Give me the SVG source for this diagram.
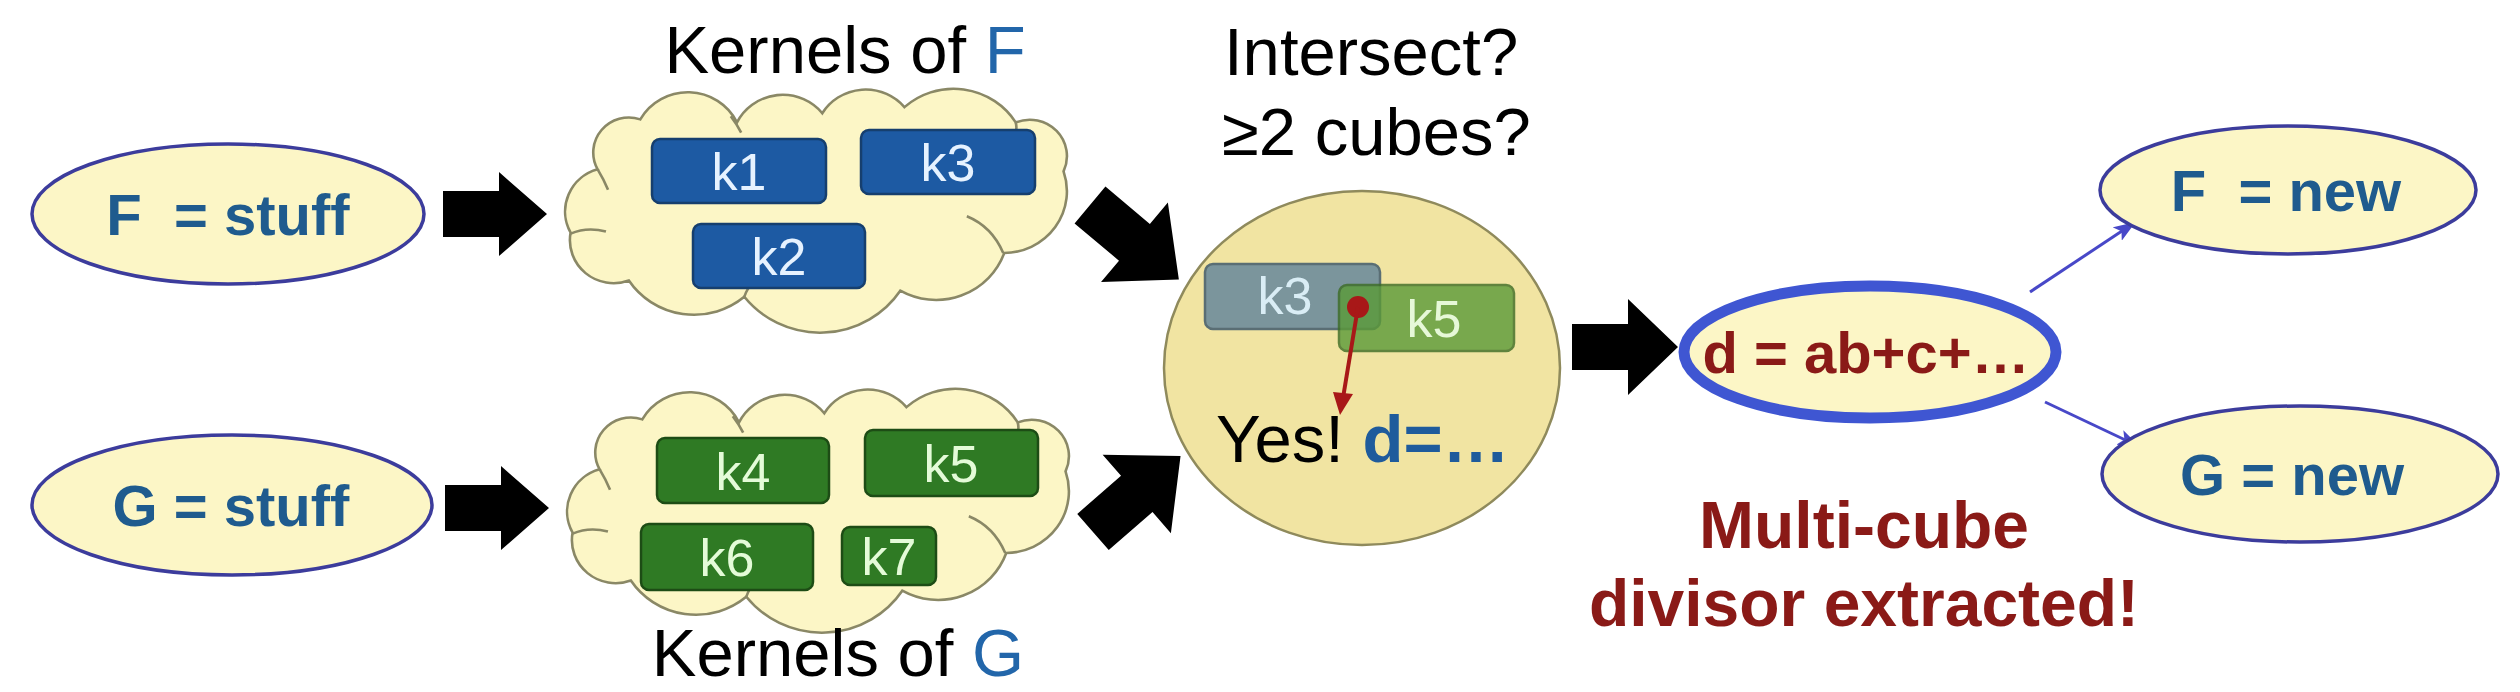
<svg xmlns="http://www.w3.org/2000/svg" xmlns:xlink="http://www.w3.org/1999/xlink" width="2520" height="692" viewBox="0 0 2520 692">
<style>
.lbl{font-family:"Liberation Sans",Arial,sans-serif;fill:#000;font-size:67px}
.blab{font-family:"Liberation Sans",Arial,sans-serif;font-weight:bold;font-size:58px;fill:#1f5b8e;white-space:pre}
.red{font-family:"Liberation Sans",Arial,sans-serif;font-weight:bold;fill:#8a1a17}
.ell{fill:#fcf6c6;stroke:#3c3c9c;stroke-width:3.5}
.cloud{fill:#fcf6c6;stroke:#8a8866;stroke-width:2.5}
.inner{fill:none;stroke:#8a8866;stroke-width:2.5}
.kb{fill:#1d5aa3;stroke:#163f6e;stroke-width:2.5}
.kg{fill:#2f7a24;stroke:#1d4c15;stroke-width:2.5}
.kt{font-family:"Liberation Sans",Arial,sans-serif;font-size:52px;text-anchor:middle}
.big{fill:#000}
.thin{stroke:#4848c8;stroke-width:3;fill:none}
</style>
<defs>
<path id="bigArrow" d="M0,-24 H58 V-52 L116,0 L58,52 V24 H0 Z"/>
<path id="hArrow" d="M0,-23 H56 V-42 L104,0 L56,42 V23 H0 Z"/>
<path id="rArrow" d="M0,-23 H56 V-48 L106,0 L56,48 V23 H0 Z"/>
<path id="cloudShape" d="M606,168 A34.3,34.3 0 0 1 647,119 A52.6,52.6 0 0 1 740,122 A49.2,49.2 0 0 1 822,113 A49,49 0 0 1 901,107 A70.8,70.8 0 0 1 1008,122 A35.75,35.75 0 0 1 1054,170 A60.5,60.5 0 0 1 997,250 A69.7,69.7 0 0 1 897,287 A93,93 0 0 1 747,293 A75.2,75.2 0 0 1 636,277 A42.1,42.1 0 0 1 580,230 A43,43 0 0 1 606,168 Z"/>
<g id="cloudInner">
<path d="M580,231 Q596,224 614,229"/>
<path d="M606,168 Q612,178 616,188"/>
<path d="M734,116 Q740,124 744,132"/>
<path d="M961,214 Q985,224 996,250"/>
<path d="M747,293 Q750,284 757,276"/>
<path d="M1008,122 Q1010,130 1006,138"/>
</g>
<marker id="thinHead" markerWidth="22" markerHeight="16" refX="20" refY="8" orient="auto" markerUnits="userSpaceOnUse">
<path d="M0,0 L22,8 L0,16 L5,8 Z" fill="#4848c8"/>
</marker>
</defs>
<rect width="2520" height="692" fill="#ffffff"/>

<!-- connectors -->
<g id="connectors">
<use xlink:href="#hArrow" class="big" transform="translate(443,214)"/>
<use xlink:href="#hArrow" class="big" transform="translate(445,508)"/>
<use xlink:href="#bigArrow" class="big" transform="translate(1090,205) rotate(40)"/>
<use xlink:href="#bigArrow" class="big" transform="translate(1093,532) rotate(-41)"/>
<use xlink:href="#rArrow" class="big" transform="translate(1572,347)"/>
<line x1="2030" y1="292" x2="2134" y2="223" class="thin" marker-end="url(#thinHead)"/>
<line x1="2045" y1="402" x2="2138" y2="446" class="thin" marker-end="url(#thinHead)"/>
</g>

<!-- Kernels of F label -->
<g id="label-kernels-f">
<text class="lbl" x="845" y="73" text-anchor="middle">Kernels of <tspan fill="#2266aa">F</tspan></text>
</g>

<!-- F = stuff -->
<g id="node-f-stuff">
<ellipse class="ell" cx="228" cy="214" rx="196" ry="70"/>
<text class="blab" x="228" y="235" text-anchor="middle">F  = stuff</text>
</g>

<!-- G = stuff -->
<g id="node-g-stuff">
<ellipse class="ell" cx="232" cy="505" rx="200" ry="70"/>
<text class="blab" x="231" y="526" text-anchor="middle">G = stuff</text>
</g>

<!-- cloud F -->
<g id="cloud-f">
<g transform="translate(815,0) scale(1.04,1.02) translate(-815,-2)">
<use xlink:href="#cloudShape" class="cloud"/>
<use xlink:href="#cloudInner" class="inner"/>
</g>
<rect class="kb" x="652" y="139" width="174" height="64" rx="8"/>
<text class="kt" x="739" y="190" fill="#e6f2ff">k1</text>
<rect class="kb" x="861" y="130" width="174" height="64" rx="8"/>
<text class="kt" x="948" y="181" fill="#e6f2ff">k3</text>
<rect class="kb" x="693" y="224" width="172" height="64" rx="8"/>
<text class="kt" x="779" y="275" fill="#e6f2ff">k2</text>
</g>

<!-- cloud G -->
<g id="cloud-g">
<g transform="translate(817,300) scale(1.04,1.02) translate(-815,-2)">
<use xlink:href="#cloudShape" class="cloud"/>
<use xlink:href="#cloudInner" class="inner"/>
</g>
<rect class="kg" x="657" y="438" width="172" height="65" rx="8"/>
<text class="kt" x="743" y="490" fill="#e4fbd8">k4</text>
<rect class="kg" x="865" y="430" width="173" height="66" rx="8"/>
<text class="kt" x="951" y="482" fill="#e4fbd8">k5</text>
<rect class="kg" x="641" y="524" width="172" height="66" rx="8"/>
<text class="kt" x="727" y="576" fill="#e4fbd8">k6</text>
<rect class="kg" x="842" y="527" width="94" height="58" rx="8"/>
<text class="kt" x="889" y="575" fill="#e4fbd8">k7</text>
</g>

<!-- Kernels of G label -->
<g id="label-kernels-g">
<text class="lbl" x="838" y="676" text-anchor="middle">Kernels of <tspan fill="#2266aa">G</tspan></text>
</g>

<!-- question -->
<g id="label-intersect">
<text class="lbl" x="1224" y="75">Intersect?</text>
<text class="lbl" x="1222" y="155">≥2 cubes?</text>
</g>

<!-- intersection circle -->
<g id="node-intersect">
<ellipse cx="1362" cy="368" rx="198" ry="177" fill="#f1e4a2" stroke="#8f8a5c" stroke-width="2.5"/>
<rect x="1205" y="264" width="175" height="65" rx="8" fill="#6f8d9c" stroke="#4a6270" stroke-width="2.5" opacity="0.9"/>
<text class="kt" x="1285" y="314" fill="#d9edf5">k3</text>
<rect x="1339" y="285" width="175" height="66" rx="8" fill="#5a9a38" stroke="#3c6c24" stroke-width="2.5" opacity="0.8"/>
<text class="kt" x="1434" y="337" fill="#e6f8d8">k5</text>
<circle cx="1358" cy="307" r="11" fill="#a81818"/>
<line x1="1358" y1="307" x2="1343" y2="398" stroke="#a81818" stroke-width="4"/>
<polygon points="1340,415 1353,394 1333,392" fill="#a81818"/>
<text class="lbl" x="1216" y="462" font-size="65">Yes! <tspan font-weight="bold" fill="#1f5b9c">d=…</tspan></text>
</g>

<!-- divisor -->
<g id="node-divisor">
<ellipse cx="1870" cy="352" rx="186" ry="66" fill="#fcf6c6" stroke="#3f56d2" stroke-width="11"/>
<text class="red" x="1866" y="373" text-anchor="middle" font-size="58">d = ab+c+…</text>
</g>

<!-- F = new -->
<g id="node-f-new">
<ellipse class="ell" cx="2288" cy="190" rx="188" ry="64"/>
<text class="blab" x="2286" y="211" text-anchor="middle">F  = new</text>
</g>

<!-- G = new -->
<g id="node-g-new">
<ellipse class="ell" cx="2300" cy="474" rx="198" ry="68"/>
<text class="blab" x="2292" y="495" text-anchor="middle">G = new</text>
</g>

<!-- caption -->
<g id="label-extracted">
<text class="red" x="1864" y="548" text-anchor="middle" font-size="66">Multi-cube</text>
<text class="red" x="1864" y="626" text-anchor="middle" font-size="66">divisor extracted!</text>
</g>
</svg>
